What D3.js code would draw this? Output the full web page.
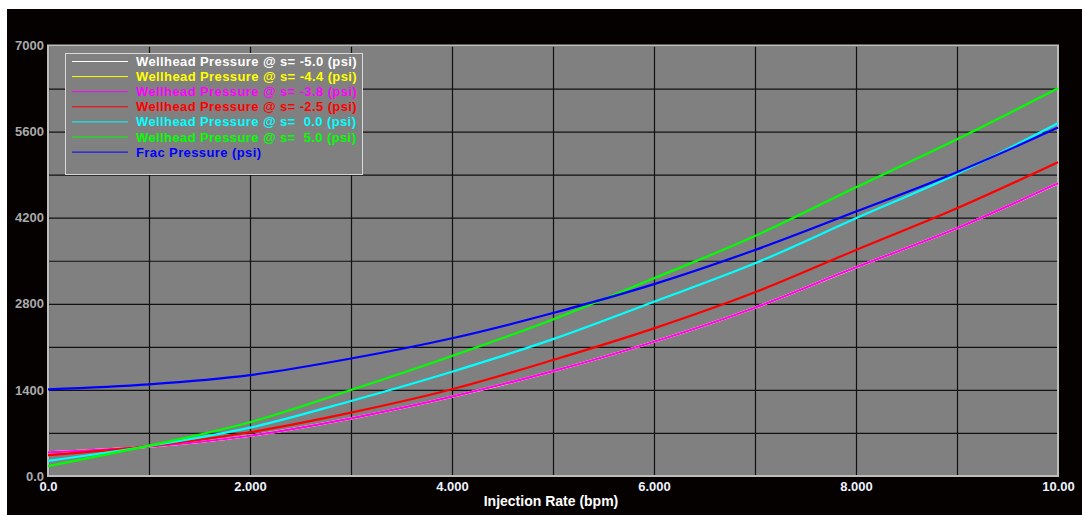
<!DOCTYPE html>
<html>
<head>
<meta charset="utf-8">
<script src="https://cdn.jsdelivr.net/npm/d3@7"></script>
<style>
  html, body { margin: 0; padding: 0; background: #ffffff; }
  svg { display: block; font-family: "Liberation Sans", Arial, sans-serif; }
</style>
</head>
<body>
<svg id="chart" width="1082" height="515"></svg>
<script>
// Injection rate (bpm) at which each curve is sampled
const rates = [0, 1, 2, 3, 4, 5, 6, 7, 8, 9, 10];

// Wellhead pressure (psi) for each skin value, plus frac pressure
const whpSkinMinus50 = [386, 477, 655, 937, 1289, 1704, 2183, 2736, 3392, 4027, 4758];
const whpSkinMinus44 = [385, 477, 655, 938, 1290, 1705, 2184, 2737, 3393, 4028, 4759];
const whpSkinMinus38 = [385, 477, 655, 938, 1290, 1705, 2184, 2737, 3393, 4028, 4759];
const whpSkinMinus25 = [340, 486, 711, 1030, 1410, 1886, 2401, 2987, 3675, 4353, 5101];
const whpSkinZero    = [245, 488, 786, 1220, 1696, 2225, 2834, 3458, 4190, 4911, 5735];
const whpSkinPlus50  = [160, 493, 873, 1398, 1951, 2545, 3214, 3902, 4694, 5475, 6304];
const fracPressure   = [1410, 1490, 1640, 1910, 2240, 2650, 3120, 3675, 4300, 4940, 5665];

const seriesNames = [
  "Wellhead Pressure @ s= -5.0 (psi)",
  "Wellhead Pressure @ s= -4.4 (psi)",
  "Wellhead Pressure @ s= -3.8 (psi)",
  "Wellhead Pressure @ s= -2.5 (psi)",
  "Wellhead Pressure @ s=  0.0 (psi)",
  "Wellhead Pressure @ s=  5.0 (psi)",
  "Frac Pressure (psi)"
];
const seriesColors = ["#ffffff", "#ffff00", "#ff00ff", "#ff0000", "#00ffff", "#00ff00", "#0000ff"];
const seriesValues = [whpSkinMinus50, whpSkinMinus44, whpSkinMinus38, whpSkinMinus25, whpSkinZero, whpSkinPlus50, fracPressure];

// Axis ticks and their labels
const xLabelTicks = [0, 2, 4, 6, 8, 10];
const xTickLabels = ["0.0", "2.000", "4.000", "6.000", "8.000", "10.00"];
const xGridTicks = [0, 1, 2, 3, 4, 5, 6, 7, 8, 9, 10];
const yLabelTicks = [0, 1400, 2800, 4200, 5600, 7000];
const yTickLabels = ["0.0", "1400", "2800", "4200", "5600", "7000"];
const yGridTicks = [0, 700, 1400, 2100, 2800, 3500, 4200, 4900, 5600, 6300, 7000];
const xTitle = "Injection Rate (bpm)";

const svg = d3.select("#chart");

// dark frame of the chart window
svg.append("rect")
  .attr("x", 7).attr("y", 9)
  .attr("width", 1075).attr("height", 506)
  .attr("fill", "#050101");

const plot = { left: 48, top: 45.5, right: 1058, bottom: 476 };
const x = d3.scaleLinear().domain([0, 10]).range([plot.left, plot.right]);
const y = d3.scaleLinear().domain([0, 7000]).range([plot.bottom, plot.top]);

// plot background
svg.append("rect")
  .attr("x", plot.left).attr("y", plot.top)
  .attr("width", plot.right - plot.left).attr("height", plot.bottom - plot.top)
  .attr("fill", "#808080");

// grid lines
const gridX = svg.append("g")
  .attr("transform", `translate(0,${plot.bottom})`)
  .call(d3.axisBottom(x).tickValues(xGridTicks).tickSize(-(plot.bottom - plot.top)).tickFormat(""));
const gridY = svg.append("g")
  .attr("transform", `translate(${plot.left},0)`)
  .call(d3.axisLeft(y).tickValues(yGridTicks).tickSize(-(plot.right - plot.left)).tickFormat(""));
[gridX, gridY].forEach(g => {
  g.select(".domain").remove();
  g.selectAll(".tick line").attr("stroke", "#111111").attr("stroke-width", 1.2);
});

// plot border
svg.append("rect")
  .attr("x", plot.left).attr("y", plot.top)
  .attr("width", plot.right - plot.left).attr("height", plot.bottom - plot.top)
  .attr("fill", "none")
  .attr("stroke", "#bdbdbd")
  .attr("stroke-width", 2);

// axis labels
const xAxis = svg.append("g")
  .attr("transform", `translate(0,${plot.bottom})`)
  .call(d3.axisBottom(x).tickValues(xLabelTicks).tickSize(0).tickPadding(6)
    .tickFormat((d, i) => xTickLabels[i]));
const yAxis = svg.append("g")
  .attr("transform", `translate(${plot.left},0)`)
  .call(d3.axisLeft(y).tickValues(yLabelTicks).tickSize(0).tickPadding(4)
    .tickFormat((d, i) => yTickLabels[i]));
[xAxis, yAxis].forEach(g => g.select(".domain").remove());
xAxis.selectAll("text")
  .attr("font-size", 13).attr("font-weight", "bold")
  .attr("font-family", "Liberation Sans, Arial, sans-serif")
  .attr("fill", "#eef2ff");
yAxis.selectAll("text")
  .attr("font-size", 13).attr("font-weight", "bold")
  .attr("font-family", "Liberation Sans, Arial, sans-serif")
  .attr("fill", "#aaaaaa");

svg.append("text")
  .attr("x", (plot.left + plot.right) / 2 - 2)
  .attr("y", 501)
  .attr("dy", "0.35em")
  .attr("text-anchor", "middle")
  .attr("font-size", 14).attr("font-weight", "bold")
  .attr("fill", "#ffffff")
  .text(xTitle);

// pressure curves
const line = d3.line()
  .x((d, i) => x(rates[i]))
  .y(d => y(d))
  .curve(d3.curveMonotoneX);

svg.append("g").selectAll("path")
  .data(seriesValues)
  .join("path")
  .attr("d", line)
  .attr("fill", "none")
  .attr("stroke", (d, i) => seriesColors[i])
  .attr("stroke-width", 2.2);

// legend
const legend = svg.append("g");
legend.append("rect")
  .attr("x", 65.5).attr("y", 53.5)
  .attr("width", 297).attr("height", 121)
  .attr("fill", "#808080")
  .attr("stroke", "#d8d8d8")
  .attr("stroke-width", 1);

const rows = legend.selectAll("g.row")
  .data(seriesNames)
  .join("g")
  .attr("class", "row")
  .attr("transform", (d, i) => `translate(0,${61 + i * 15.1})`);
rows.append("line")
  .attr("x1", 72).attr("x2", 128)
  .attr("y1", 0.5).attr("y2", 0.5)
  .attr("stroke", (d, i) => seriesColors[i])
  .attr("stroke-width", 1);
rows.append("text")
  .attr("x", 136)
  .attr("y", 0.5)
  .attr("dy", "0.35em")
  .attr("font-size", 13).attr("font-weight", "bold")
  .attr("letter-spacing", 0.4)
  .attr("fill", (d, i) => seriesColors[i])
  .attr("xml:space", "preserve")
  .style("white-space", "pre")
  .text(d => d);
</script>
</body>
</html>
